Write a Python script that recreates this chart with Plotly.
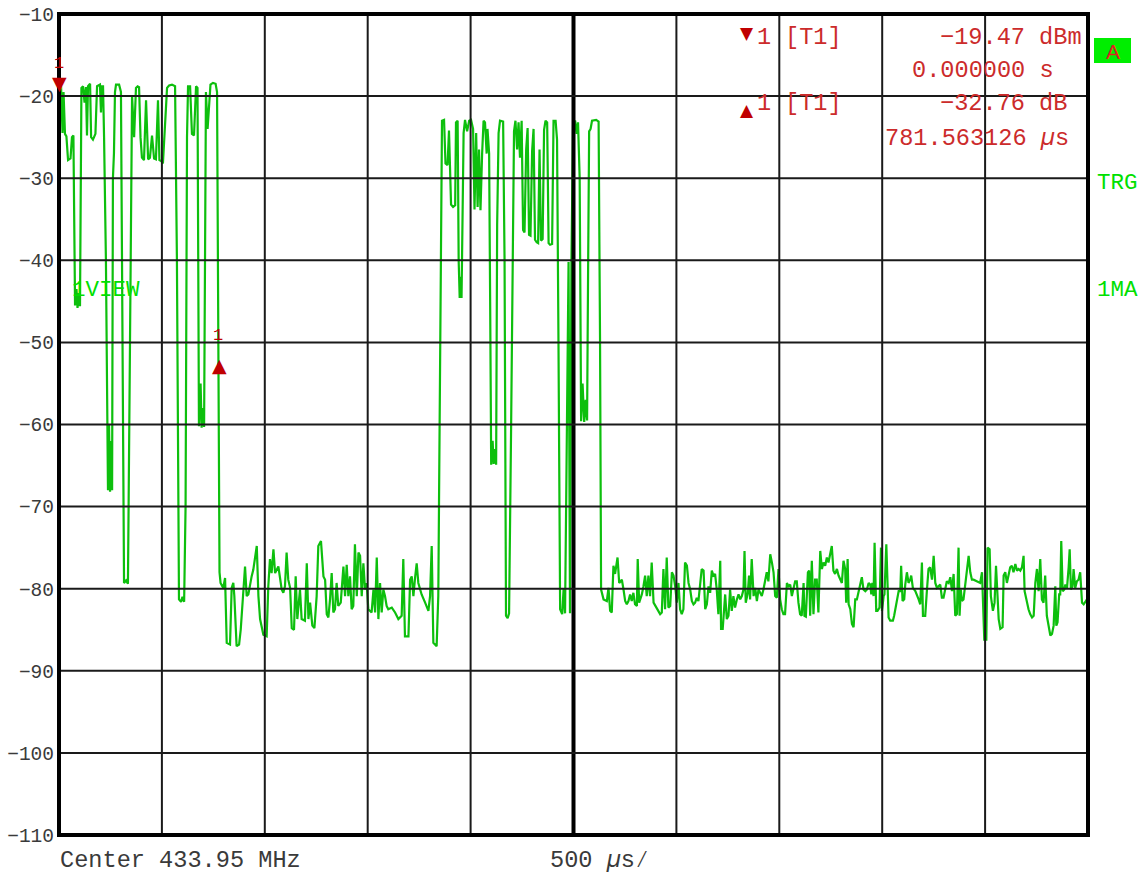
import plotly.graph_objects as go

# ---------------- marker readouts ----------------
M1_TIME_US = 0.0
M1_LEVEL_DBM = -19.47
D1_TIME_US = 781.563126
D1_DELTA_DB = -32.76

# ---------------- axis ticks ----------------
X_GRID_US = [500, 1000, 1500, 2000, 2500, 3000, 3500, 4000, 4500]
Y_TICKS = [-10, -20, -30, -40, -50, -60, -70, -80, -90, -100, -110]
Y_TICK_TEXT = ["\u221210", "\u221220", "\u221230", "\u221240", "\u221250", "\u221260",
               "\u221270", "\u221280", "\u221290", "\u2212100", "\u2212110"]

# ---------------- trace (time in us, level in dBm) ----------------
burst1_t = [0, 10, 17, 22, 29, 36, 44, 56, 63, 70, 78, 85, 90, 97, 102, 109, 117, 124, 131, 136,
            141, 151, 156, 165, 177, 185, 199, 204, 209, 214, 219, 228, 238, 243, 248, 253, 258, 262, 267, 272,
            277, 292, 301, 309, 316, 326, 335, 345, 350, 355, 365, 374, 382, 389, 396, 403, 413, 423, 433, 442,
            452, 462, 471, 481, 488, 496, 505, 515, 525, 535, 549, 564, 573, 583, 593, 600, 608, 615, 622, 627,
            637, 646, 656, 666, 673, 680, 688, 693, 700, 705, 710, 714, 722, 729, 736, 748, 761, 768, 775, 780]
burst1_v = [-19.5, -18.8, -24.5, -19.5, -24.6, -24.9, -27.8, -27.6, -25.0, -24.8,
            -45.5, -43.5, -45.8, -44.0, -45.6, -19.0, -18.8, -20.8, -18.9, -24.8,
            -18.8, -18.5, -25.0, -25.3, -24.6, -18.8, -18.6, -22.0, -18.8, -18.8,
            -25.0, -40.0, -68.0, -60.0, -68.2, -62.0, -68.0, -30.0, -27.0, -19.5,
            -18.6, -18.6, -19.5, -50.0, -79.3, -79.0, -79.4, -50.0, -27.0, -20.0,
            -25.0, -19.0, -18.8, -18.9, -25.0, -27.5, -27.8, -20.5, -27.7, -27.5,
            -24.8, -27.6, -27.7, -20.5, -27.8, -27.9, -28.2, -24.0, -19.0, -18.7,
            -18.6, -18.8, -40.0, -81.3, -81.6, -81.0, -81.6, -70.0, -25.0, -18.8,
            -18.8, -24.6, -24.8, -18.8, -19.0, -60.2, -55.0, -60.4, -58.0, -60.3,
            -30.0, -19.5, -24.0, -20.5, -18.6, -18.4, -18.5, -19.5, -50.0, -78.0]

noise1_t = [785, 798, 807, 815, 831, 839, 847, 852, 863, 875, 883, 891, 904, 912, 920, 936, 944, 961, 969, 977,
            993, 1009, 1017, 1025, 1033, 1042, 1050, 1066, 1074, 1082, 1090, 1098, 1106, 1114, 1123, 1131, 1142,
            1150, 1158, 1171, 1179, 1195, 1204, 1212, 1220, 1231, 1241, 1252, 1260, 1273, 1285, 1293, 1301, 1309,
            1317, 1325, 1333, 1341, 1349, 1357, 1369, 1382, 1390, 1398, 1406, 1414, 1422, 1430, 1438, 1447, 1455,
            1463, 1471, 1479, 1487, 1495, 1503, 1519, 1528, 1536, 1544, 1552, 1560, 1568, 1576, 1584, 1592, 1600,
            1617, 1633, 1649, 1665, 1673, 1681, 1698, 1706, 1714, 1722, 1730, 1738, 1746, 1762, 1779, 1795, 1803,
            1811, 1819, 1835, 1843]
noise1_v = [-79.3, -79.9, -78.7, -86.6, -86.8, -79.9, -79.3, -80.9, -87.0, -86.8,
            -85.0, -82.1, -77.3, -80.9, -80.7, -78.5, -77.7, -74.8, -80.9, -83.7,
            -85.6, -85.8, -79.7, -76.4, -78.1, -75.2, -78.1, -77.3, -78.5, -80.1,
            -80.5, -79.7, -75.6, -78.9, -79.9, -84.8, -85.0, -78.5, -83.7, -80.1,
            -83.7, -83.9, -76.9, -83.7, -81.7, -84.5, -84.8, -80.9, -74.8, -74.2,
            -78.5, -78.9, -83.1, -83.5, -81.3, -78.1, -82.9, -82.5, -79.3, -82.1,
            -81.7, -77.3, -80.9, -77.1, -80.9, -78.5, -82.5, -82.1, -74.6, -80.9,
            -75.6, -76.0, -80.9, -76.9, -80.1, -79.3, -82.5, -82.9, -80.1, -82.9,
            -76.2, -83.7, -79.3, -82.9, -80.1, -80.9, -82.1, -82.5, -82.3, -82.9,
            -83.7, -83.3, -76.4, -85.8, -85.8, -78.9, -78.5, -80.9, -78.7, -76.9,
            -79.3, -80.7, -81.7, -82.7, -80.9, -74.8, -86.6, -87.0, -80.9]

burst2_t = [1852, 1857, 1861, 1871, 1878, 1888, 1895, 1905, 1915, 1925, 1929, 1937, 1942, 1947, 1951, 1956,
            1961, 1966, 1973, 1983, 1993, 2002, 2012, 2019, 2027, 2034, 2041, 2048, 2056, 2063, 2070, 2078,
            2082, 2090, 2095, 2100, 2107, 2112, 2119, 2124, 2129, 2136, 2143, 2158, 2165, 2172, 2180, 2187,
            2197, 2204, 2211, 2218, 2226, 2233, 2240, 2248, 2255, 2262, 2270, 2277, 2284, 2291, 2299, 2306,
            2313, 2321, 2328, 2335, 2342, 2350, 2357, 2364, 2372, 2379, 2386, 2396, 2403, 2413, 2420, 2427,
            2435, 2445, 2452, 2459, 2469, 2476, 2483, 2490, 2498, 2508, 2515, 2522, 2530, 2537, 2544, 2552,
            2559, 2566, 2571, 2576, 2583, 2590, 2610, 2622, 2629, 2634]
burst2_v = [-50.0, -24.3, -23.0, -22.9, -28.2, -28.4, -24.2, -33.2, -33.5, -33.3,
            -23.2, -23.0, -40.0, -44.6, -42.0, -44.6, -30.0, -24.5, -22.9, -24.3,
            -23.0, -22.9, -24.0, -33.8, -24.5, -33.5, -26.5, -33.9, -27.0, -23.0,
            -23.2, -27.0, -24.0, -27.0, -45.0, -64.9, -62.0, -64.8, -63.0, -64.9,
            -35.7, -24.5, -23.0, -23.1, -40.0, -83.3, -83.6, -83.0, -60.0, -36.7,
            -24.3, -23.0, -26.5, -23.2, -27.5, -23.0, -36.3, -36.6, -26.5, -23.9,
            -36.9, -37.0, -26.7, -24.0, -37.5, -37.8, -37.9, -26.5, -37.6, -37.4,
            -24.1, -23.0, -23.2, -37.9, -38.1, -38.0, -23.0, -23.0, -25.3, -50.0,
            -82.5, -83.1, -80.0, -83.0, -60.0, -40.2, -83.0, -40.0, -23.3, -23.0,
            -24.6, -23.2, -30.0, -59.6, -55.0, -59.7, -57.0, -59.5, -41.0, -24.3,
            -24.0, -23.0, -22.9, -23.1, -50.0, -80.1]

noise2_t = [2646, 2662, 2670, 2678, 2686, 2694, 2702, 2714, 2722, 2735, 2743, 2751, 2759, 2767, 2775, 2783,
            2791, 2799, 2808, 2812, 2819, 2832, 2840, 2848, 2856, 2864, 2872, 2880, 2889, 2897, 2905, 2913,
            2921, 2929, 2937, 2945, 2953, 2961, 2970, 2978, 2986, 2994, 3002, 3010, 3018, 3026, 3034, 3042,
            3051, 3059, 3067, 3075, 3083, 3091, 3099, 3107, 3115, 3123, 3132, 3140, 3148, 3156, 3164, 3172,
            3180, 3188, 3196, 3204, 3213, 3217, 3225, 3237, 3245, 3253, 3261, 3269, 3277, 3285, 3294, 3302,
            3310, 3318, 3326, 3331, 3337, 3347, 3353, 3358, 3366, 3375, 3383, 3391, 3399, 3407, 3415, 3423,
            3431, 3439, 3447, 3456, 3464, 3472, 3480, 3488, 3496, 3504, 3512, 3520, 3528, 3537, 3545, 3553,
            3561, 3569, 3577, 3585, 3593, 3601, 3609, 3618, 3622, 3629, 3639, 3645, 3650, 3658, 3666, 3674,
            3682, 3690, 3699, 3707, 3715, 3723, 3731, 3739, 3747, 3755, 3763, 3771, 3780, 3788, 3804, 3812, 3820]
noise2_v = [-81.3, -81.5, -79.9, -82.7, -82.9, -77.2, -78.2, -76.2, -79.3, -78.9,
            -80.1, -81.5, -81.9, -81.5, -80.7, -81.5, -80.5, -81.9, -82.1, -76.4,
            -81.7, -80.7, -79.7, -78.4, -80.9, -78.4, -80.9, -76.8, -81.7, -82.1,
            -82.3, -82.7, -83.1, -82.9, -77.6, -82.5, -76.2, -82.3, -82.1, -78.0,
            -78.4, -79.7, -81.7, -79.3, -82.5, -83.1, -82.5, -76.8, -77.2, -79.3,
            -80.1, -81.5, -81.9, -81.7, -81.1, -81.5, -79.9, -77.6, -77.8, -82.5,
            -81.9, -79.7, -80.5, -77.8, -78.4, -78.2, -80.1, -83.1, -76.6, -84.9,
            -84.9, -80.7, -83.7, -83.3, -80.1, -82.7, -80.9, -82.3, -81.3, -80.7,
            -81.3, -80.9, -80.1, -75.4, -81.7, -80.5, -78.4, -81.3, -76.4, -80.9,
            -79.9, -81.5, -80.1, -80.5, -80.9, -80.1, -78.9, -78.0, -79.1, -75.8,
            -76.8, -78.0, -80.9, -81.1, -77.6, -81.3, -82.5, -83.1, -83.1, -79.3,
            -79.7, -79.5, -80.9, -79.9, -79.1, -79.1, -81.7, -83.1, -83.3, -79.3,
            -83.3, -83.4, -78.0, -77.8, -83.3, -76.6, -83.1, -78.9, -78.9, -82.9,
            -75.4, -77.6, -76.8, -77.2, -76.2, -76.8, -75.8, -74.8, -77.8, -78.2,
            -77.6, -78.4, -79.3, -76.6, -77.6]

noise3_t = [3825, 3832, 3837, 3845, 3853, 3861, 3869, 3877, 3885, 3893, 3901, 3909, 3918, 3926, 3934, 3942,
            3947, 3952, 3958, 3963, 3971, 3977, 3987, 3994, 3999, 4007, 4011, 4020, 4026, 4031, 4039, 4052,
            4058, 4071, 4080, 4088, 4092, 4099, 4107, 4112, 4120, 4128, 4136, 4141, 4149, 4161, 4169, 4177,
            4185, 4193, 4198, 4209, 4217, 4225, 4233, 4242, 4250, 4258, 4266, 4274, 4282, 4290, 4298, 4306,
            4314, 4323, 4331, 4339, 4347, 4355, 4363, 4371, 4376, 4382, 4387, 4395, 4404, 4412, 4420, 4428,
            4436, 4444, 4460, 4476, 4485, 4489, 4496, 4506, 4512, 4522, 4528, 4538, 4546, 4553, 4557, 4566,
            4574, 4585, 4590, 4598, 4606, 4614, 4622, 4630, 4638, 4647, 4655, 4663, 4671, 4679, 4687, 4692,
            4700, 4711, 4719, 4728, 4736, 4744, 4752, 4760, 4768, 4776, 4784, 4792, 4800, 4809, 4817, 4825,
            4833, 4841, 4846, 4852, 4860, 4865, 4870, 4877, 4885, 4890, 4898, 4906, 4911, 4917, 4925, 4930,
            4938, 4946, 4954, 4962, 4971, 4979, 4987, 4995, 5000]
noise3_v = [-81.7, -76.4, -81.9, -82.5, -84.3, -84.7, -81.3, -81.3, -80.5, -79.7,
            -78.6, -80.1, -80.3, -80.1, -79.3, -79.5, -80.7, -79.3, -80.9, -74.4,
            -82.7, -82.7, -82.3, -75.0, -82.7, -80.9, -80.7, -74.6, -81.7, -83.5,
            -83.9, -83.9, -83.3, -81.5, -80.3, -80.3, -77.2, -81.5, -81.3, -79.5,
            -78.0, -79.3, -78.9, -78.4, -79.9, -80.3, -80.7, -81.3, -81.9, -76.8,
            -83.3, -83.3, -80.3, -77.6, -77.4, -78.9, -76.0, -79.3, -79.9, -79.7,
            -79.5, -81.1, -81.1, -80.1, -79.1, -79.3, -78.6, -80.3, -78.2, -83.3,
            -83.1, -75.0, -83.3, -80.1, -81.5, -81.3, -79.3, -77.0, -76.0, -78.0,
            -78.9, -78.9, -79.1, -79.3, -78.0, -80.9, -86.2, -86.2, -75.0, -75.2,
            -80.9, -82.7, -81.7, -77.2, -79.3, -83.7, -84.9, -84.7, -78.4, -78.0,
            -79.3, -78.4, -77.4, -77.2, -78.0, -77.0, -77.8, -77.6, -77.8, -77.4,
            -76.0, -80.3, -81.3, -82.5, -83.1, -83.5, -83.3, -79.3, -77.6, -80.3,
            -76.4, -81.3, -81.7, -78.4, -83.3, -84.9, -85.7, -85.5, -84.5, -79.7,
            -84.5, -84.1, -80.7, -80.7, -74.2, -80.3, -80.1, -79.5, -79.9, -77.4,
            -75.2, -80.1, -79.7, -77.6, -79.9, -79.1, -78.9, -78.0, -81.7, -81.9,
            -81.5, -81.3, -81.5]

# ---------------- styling ----------------
FIG_W, FIG_H = 1141, 875
PL, PR, PT, PB = 59, 1088, 14, 835      # plot-area box in page pixels


def px(xp):
    return (xp - PL) / (PR - PL)


def py(yp):
    return (PB - yp) / (PB - PT)


MONO = "Liberation Mono"
SYM = "DejaVu Sans"
GRAY = "#3a3a3a"
RED = "#cc2b2b"
DARKRED = "#c00000"
GREEN_TXT = "#00e000"
TRACE = "#0dbf0d"
GRIDC = "#1a1a1a"

t_all, v_all = [], []
for ts, vs in ((burst1_t, burst1_v), (noise1_t, noise1_v), (burst2_t, burst2_v),
               (noise2_t, noise2_v), (noise3_t, noise3_v)):
    for a, b in zip(ts, vs):
        t_all.append(a)
        v_all.append(b)

fig = go.Figure(go.Scatter(x=t_all, y=v_all, mode="lines",
                           line=dict(color=TRACE, width=2.2), hoverinfo="skip"))

shapes = []
for xv in X_GRID_US:
    shapes.append(dict(type="line", xref="x", yref="paper", x0=xv, x1=xv, y0=0, y1=1,
                       line=dict(color="black" if xv == 2500 else GRIDC, width=4 if xv == 2500 else 2),
                       layer="above"))
for yv in Y_TICKS[1:-1]:
    shapes.append(dict(type="line", xref="paper", yref="y", x0=0, x1=1, y0=yv, y1=yv,
                       line=dict(color=GRIDC, width=2), layer="above"))
shapes.append(dict(type="rect", xref="paper", yref="paper", x0=0, x1=1, y0=0, y1=1,
                   line=dict(color="black", width=4), layer="above"))
# green "A" box
shapes.append(dict(type="rect", xref="paper", yref="paper", x0=px(1094), x1=px(1131),
                   y0=py(63), y1=py(38), line=dict(width=0), fillcolor="#00ee00", layer="above"))

ann = []


def txt(x, y, s, color, size, xanchor="left", family=MONO):
    ann.append(dict(x=px(x), y=py(y), xref="paper", yref="paper", text=s, showarrow=False,
                    xanchor=xanchor, yanchor="middle",
                    font=dict(family=family, size=size, color=color)))


txt(58, 860, "Center 433.95 MHz", GRAY, 23.6)
txt(548, 860, "500 <i>\u00b5</i>s\u2044", GRAY, 23.6)

txt(747, 33, "\u25bc", DARKRED, 17, "center", SYM)
txt(755, 38, "1", RED, 23.6)
txt(783, 38, "[T1]", RED, 23.6)
txt(938, 38, "\u221219.47 dBm", RED, 23.6)
txt(910, 71, "0.000000 s", RED, 23.6)
txt(747, 110, "\u25b2", DARKRED, 17, "center", SYM)
txt(755, 104, "1", RED, 23.6)
txt(783, 104, "[T1]", RED, 23.6)
txt(938, 104, "\u221232.76 dB", RED, 23.6)
txt(883, 138, "781.563126 <i>\u00b5</i>s", RED, 23.6)

txt(1112.5, 51, "A", "#e02020", 21, "center", "Liberation Sans")
txt(1095, 183, "TRG", GREEN_TXT, 22.5)
txt(1095, 290, "1MA", GREEN_TXT, 22.5)
txt(70, 290, "1VIEW", GREEN_TXT, 22.5)

# trace markers
D1_LEVEL = M1_LEVEL_DBM + D1_DELTA_DB
ann.append(dict(x=M1_TIME_US, y=M1_LEVEL_DBM, xref="x", yref="y", text="\u25bc", showarrow=False,
                xanchor="center", yanchor="bottom", yshift=-4,
                font=dict(family=SYM, size=19, color=DARKRED)))
ann.append(dict(x=M1_TIME_US, y=M1_LEVEL_DBM, xref="x", yref="y", text="1", showarrow=False,
                xanchor="center", yanchor="bottom", yshift=17,
                font=dict(family=MONO, size=17, color=DARKRED)))
ann.append(dict(x=D1_TIME_US, y=D1_LEVEL, xref="x", yref="y", text="\u25b2", showarrow=False,
                xanchor="center", yanchor="top", yshift=9,
                font=dict(family=SYM, size=19, color=DARKRED)))
ann.append(dict(x=D1_TIME_US, y=D1_LEVEL, xref="x", yref="y", text="1", showarrow=False,
                xanchor="center", yanchor="bottom", yshift=14, xshift=-2,
                font=dict(family=MONO, size=17, color=DARKRED)))

fig.update_layout(
    width=FIG_W, height=FIG_H,
    margin=dict(l=PL, r=FIG_W - PR, t=PT, b=FIG_H - PB),
    paper_bgcolor="white", plot_bgcolor="white",
    showlegend=False, shapes=shapes, annotations=ann,
)
fig.update_xaxes(range=[0, 5000], showgrid=False, zeroline=False, showticklabels=False,
                 ticks="", showline=False, fixedrange=True, automargin=False)
fig.update_yaxes(range=[-110, -10], tickvals=Y_TICKS, ticktext=Y_TICK_TEXT, showgrid=False,
                 zeroline=False, ticks="", showline=False, ticklabelstandoff=4, automargin=False,
                 tickfont=dict(family=MONO, size=19.5, color=GRAY), fixedrange=True)

fig.write_html("out.html")
